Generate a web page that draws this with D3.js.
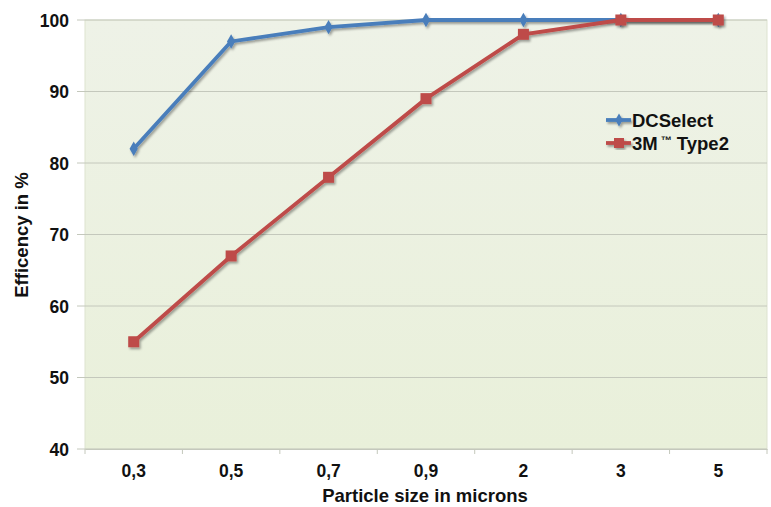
<!DOCTYPE html>
<html><head><meta charset="utf-8">
<script src="https://cdn.jsdelivr.net/npm/d3@7"></script>
<style>body{margin:0;background:#fff;} text{font-family:"Liberation Sans",Arial,sans-serif;font-weight:bold;fill:#111;}</style>
</head><body>
<svg id="c" width="771" height="507"></svg>
<script>
const categories = ["0,3","0,5","0,7","0,9","2","3","5"];
const dcSelect = [82, 97, 99, 100, 100, 100, 100];
const mmmType2 = [55, 67, 78, 89, 98, 100, 100];
const yTicks = [40,50,60,70,80,90,100];
const seriesNames = ["DCSelect","3M\u2122 Type2"];

const svg = d3.select("#c");
const m = {l:85, r:4, t:20, b:58};
const W = 771, H = 507;
const x = d3.scaleBand().domain(categories).range([m.l, W - m.r]);
const y = d3.scaleLinear().domain([40,100]).range([H - m.b, m.t]);

const defs = svg.append("defs");
const g = defs.append("linearGradient").attr("id","bg").attr("x1",0).attr("y1",0).attr("x2",0).attr("y2",1);
g.append("stop").attr("offset","0%").attr("stop-color","#eef2e7");
g.append("stop").attr("offset","100%").attr("stop-color","#e9f0da");
const f = defs.append("filter").attr("id","sh").attr("x","-10%").attr("y","-10%").attr("width","130%").attr("height","130%");
f.append("feDropShadow").attr("dx",1.5).attr("dy",2).attr("stdDeviation",1.2).attr("flood-color","#000").attr("flood-opacity",0.35);

svg.append("rect").attr("x",m.l).attr("y",m.t).attr("width",W-m.r-m.l).attr("height",H-m.b-m.t)
  .attr("fill","url(#bg)").attr("stroke","#dde3d0");

// gridlines
svg.append("g").selectAll("line").data(yTicks).join("line")
  .attr("x1",m.l-8).attr("x2",W-m.r).attr("y1",d=>y(d)).attr("y2",d=>y(d))
  .attr("stroke","#c4c8bc").attr("stroke-width",1);

// y axis labels
const ya = svg.append("g").attr("transform",`translate(${m.l-10},0)`)
  .call(d3.axisLeft(y).tickValues(yTicks).tickSize(0).tickPadding(6));
ya.select(".domain").remove();
ya.selectAll("text").attr("font-size",17.5).attr("fill","#111").attr("dy","0.35em")
  .style("font-family","Liberation Sans, Arial, sans-serif").style("font-weight","bold");

// x axis
const xa = svg.append("g").attr("transform",`translate(0,${H-m.b})`)
  .call(d3.axisBottom(x).tickSize(0).tickPadding(16));
xa.select(".domain").attr("stroke","#c4c8bc");
xa.selectAll("text").attr("font-size",17.5).attr("fill","#111")
  .style("font-family","Liberation Sans, Arial, sans-serif").style("font-weight","bold");
const bounds = categories.map(c=>x(c)).concat([x(categories[categories.length-1])+x.bandwidth()]);
svg.append("g").selectAll("line").data(bounds).join("line")
  .attr("x1",d=>d).attr("x2",d=>d).attr("y1",H-m.b).attr("y2",H-m.b+5).attr("stroke","#c4c8bc");

const cx = c => x(c) + x.bandwidth()/2;
const line = d3.line().x((d,i)=>cx(categories[i])).y(d=>y(d));

// DCSelect
const gb = svg.append("g").attr("filter","url(#sh)");
gb.append("path").datum(dcSelect).attr("d",line).attr("fill","none").attr("stroke","#4a7ebb").attr("stroke-width",3.8);
gb.selectAll("path.m").data(dcSelect).join("path").attr("class","m")
  .attr("d",d3.symbol(d3.symbolDiamond,60)).attr("transform",(d,i)=>`translate(${cx(categories[i])},${y(d)})`)
  .attr("fill","#4a7ebb");

// 3M
const gr = svg.append("g").attr("filter","url(#sh)");
gr.append("path").datum(mmmType2).attr("d",line).attr("fill","none").attr("stroke","#be4b48").attr("stroke-width",3.8);
gr.selectAll("rect").data(mmmType2).join("rect")
  .attr("x",(d,i)=>cx(categories[i])-5.5).attr("y",d=>y(d)-5.5).attr("width",11).attr("height",11)
  .attr("fill","#be4b48");

// legend
const lg = svg.append("g");
const colors = ["#4a7ebb","#be4b48"];
seriesNames.forEach((n,i)=>{
  const yy = 120 + i*23;
  const gi = lg.append("g").attr("filter","url(#sh)");
  gi.append("line").attr("x1",606).attr("x2",631).attr("y1",yy).attr("y2",yy).attr("stroke",colors[i]).attr("stroke-width",3.8);
  if(i===0) gi.append("path").attr("d",d3.symbol(d3.symbolDiamond,50)).attr("transform",`translate(619,${yy})`).attr("fill",colors[i]);
  else gi.append("rect").attr("x",614).attr("y",yy-5).attr("width",10).attr("height",10).attr("fill",colors[i]);
  const t = lg.append("text").attr("x",632).attr("y",yy).attr("dy","0.36em").attr("font-size",18.5);
  const parts = n.split("\u2122");
  if(parts.length>1){
    t.append("tspan").text(parts[0]);
    t.append("tspan").attr("font-size",11).attr("dy","-0.5em").attr("dx",3).text("\u2122");
    t.append("tspan").attr("dy","0.3em").text(parts[1]);
  } else t.text(n);
});

// axis titles
svg.append("text").attr("x",425).attr("y",502).attr("text-anchor","middle").attr("font-size",18.5).text("Particle size in microns");
svg.append("text").attr("transform","translate(28,235) rotate(-90)").attr("text-anchor","middle").attr("font-size",18.5).text("Efficency in %");
</script>
</body></html>
